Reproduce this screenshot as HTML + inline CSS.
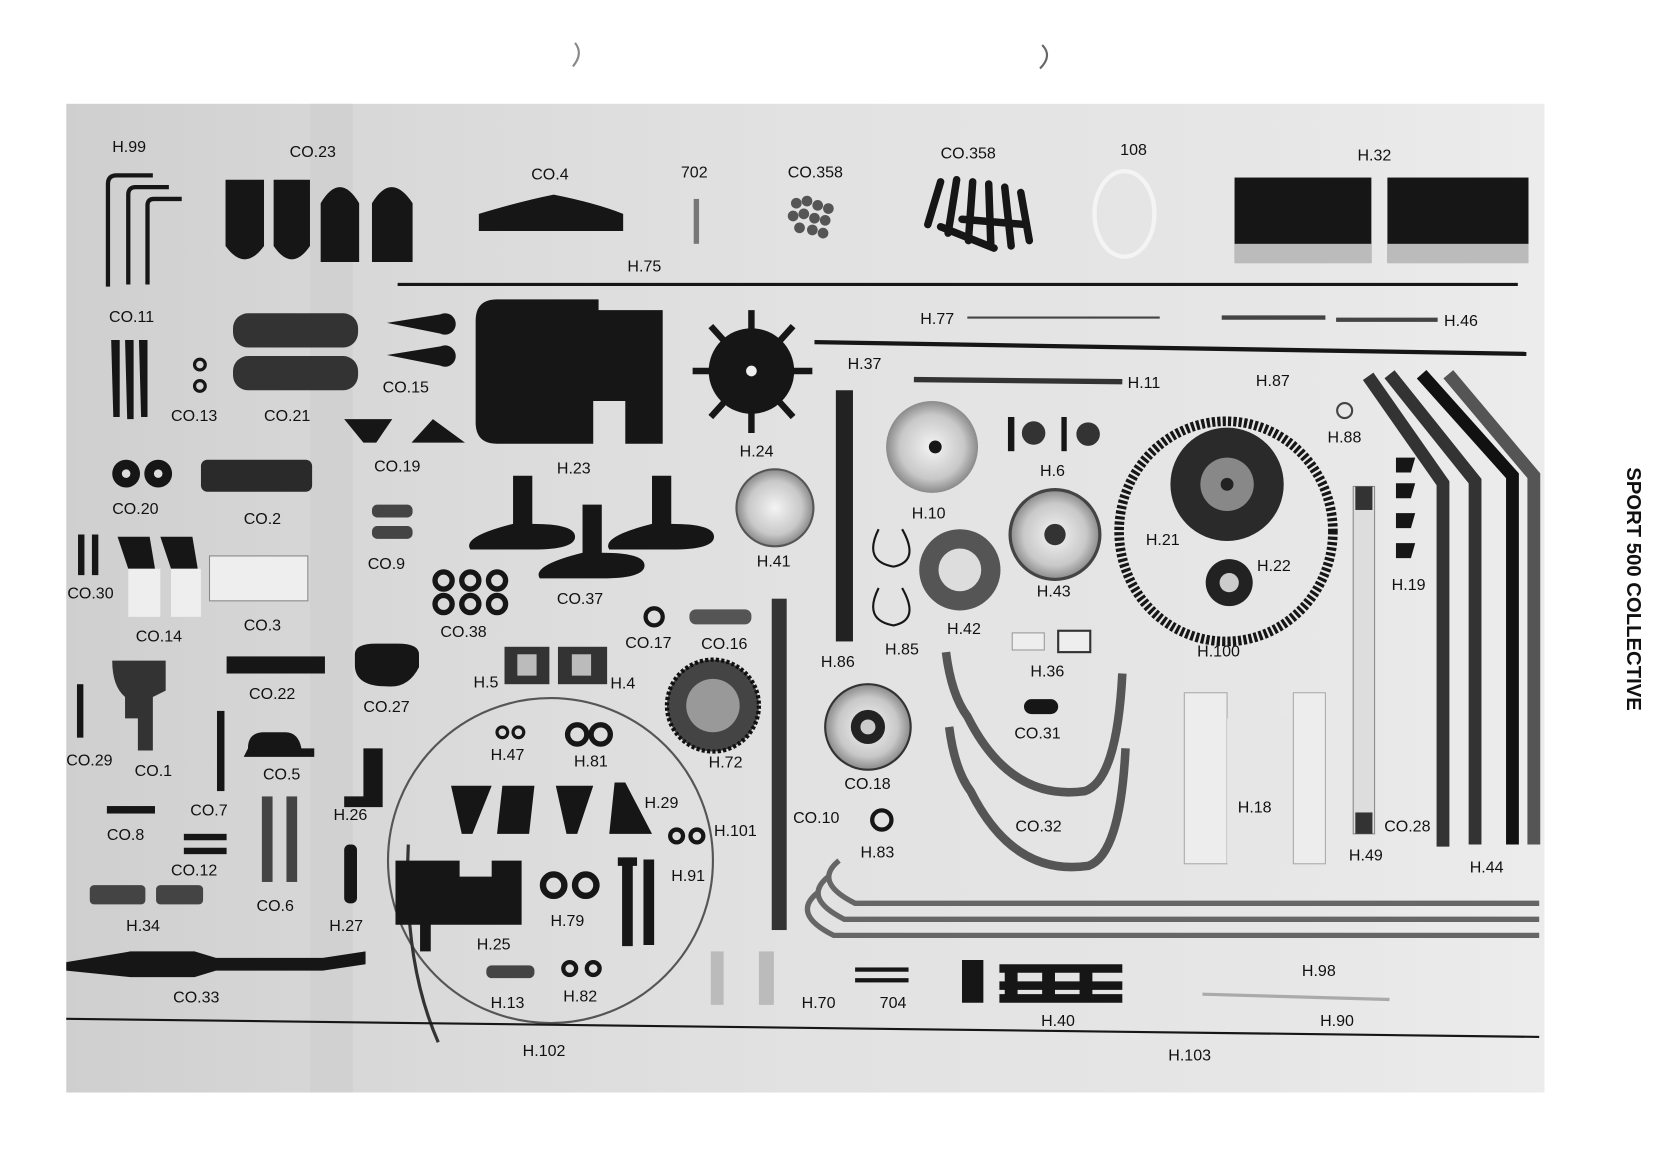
<!DOCTYPE html>
<html><head><meta charset="utf-8"><style>
html,body{margin:0;padding:0;background:#fff;}
svg{display:block}
text{font-family:"Liberation Sans",sans-serif;font-size:15px;fill:#111;}
</style></head><body>
<svg width="1676" height="1176" viewBox="0 0 1568 1100" xmlns="http://www.w3.org/2000/svg">
<defs>
<linearGradient id="bg" x1="0" x2="1" y1="0" y2="0">
<stop offset="0" stop-color="#cfcfcf"/><stop offset="0.25" stop-color="#dadada"/><stop offset="0.5" stop-color="#e2e2e2"/><stop offset="0.8" stop-color="#e6e6e6"/><stop offset="1" stop-color="#ececec"/>
</linearGradient>
<radialGradient id="disc"><stop offset="0" stop-color="#f4f4f4"/><stop offset="0.7" stop-color="#c8c8c8"/><stop offset="1" stop-color="#8a8a8a"/></radialGradient>
</defs>
<rect width="1568" height="1100" fill="#fff"/>
<path d="M538 40 q8 10 -2 22" stroke="#888" fill="none" stroke-width="2"/>
<path d="M975 42 q10 10 -2 22" stroke="#666" fill="none" stroke-width="2"/>
<rect x="62" y="97" width="1383" height="925" fill="url(#bg)"/>
<rect x="290" y="97" width="40" height="925" fill="#cdcdcd" opacity="0.6"/>
<g fill="#161616" stroke="#161616">
<!-- H.99 -->
<path d="M101 268 V172 q0-8 8-8 H143 M120 266 V182 q0-7 7-7 H158 M138 266 V192 q0-6 6-6 H170" fill="none" stroke-width="4"/>
<!-- CO.23 -->
<path d="M211 168 h36 v62 q-18 25 -36 0z M256 168 h34 v62 q-17 25 -34 0z M300 190 q18-30 36 0 v55 h-36z M348 190 q18-30 38 0 v55 h-38z" stroke="none"/>
<!-- CO.4 -->
<path d="M448 200 q40-12 70-18 q40 8 65 18 v16 h-135z" stroke="none"/>
<rect x="649" y="186" width="5" height="42" fill="#777" stroke="none"/>
<!-- CO.358 balls -->
<g fill="#555" stroke="none"><circle cx="745" cy="190" r="5"/><circle cx="755" cy="188" r="5"/><circle cx="765" cy="192" r="5"/><circle cx="775" cy="195" r="5"/><circle cx="742" cy="202" r="5"/><circle cx="752" cy="200" r="5"/><circle cx="762" cy="204" r="5"/><circle cx="772" cy="206" r="5"/><circle cx="748" cy="213" r="5"/><circle cx="760" cy="215" r="5"/><circle cx="770" cy="218" r="5"/></g>
<g stroke-width="7" stroke-linecap="round" fill="none"><path d="M880 170 l-12 40 M895 168 l-8 50 M910 170 l-4 55 M925 172 l2 58 M940 175 l6 55 M955 180 l8 45 M900 205 l60 5 M880 212 l50 20"/></g>
<ellipse cx="1052" cy="200" rx="28" ry="40" fill="none" stroke="#f4f4f4" stroke-width="4"/>
<rect x="1155" y="166" width="128" height="80" stroke="none"/>
<rect x="1298" y="166" width="132" height="80" stroke="none"/>
<rect x="1155" y="228" width="128" height="18" fill="#bbb" stroke="none"/>
<rect x="1298" y="228" width="132" height="18" fill="#bbb" stroke="none"/>
<!-- lines -->
<line x1="372" y1="266" x2="1420" y2="266" stroke-width="3"/>
<line x1="905" y1="297" x2="1085" y2="297" stroke-width="2" stroke="#444"/>
<line x1="1143" y1="297" x2="1240" y2="297" stroke-width="4" stroke="#444"/>
<line x1="1250" y1="299" x2="1345" y2="299" stroke-width="4" stroke="#444"/>
<line x1="762" y1="320" x2="1428" y2="331" stroke-width="4"/>
<!-- CO.11 -->
<path d="M104 318 h8 v72 h-6z M117 318 h8 v74 h-6z M130 318 h8 v72 h-6z" stroke="none"/>
<circle cx="187" cy="341" r="5" fill="none" stroke-width="3"/><circle cx="187" cy="361" r="5" fill="none" stroke-width="3"/>
<rect x="218" y="293" width="117" height="32" rx="14" fill="#333" stroke="none"/>
<rect x="218" y="333" width="117" height="32" rx="14" fill="#333" stroke="none"/>
<path d="M362 302 l50-8 a10 10 0 1 1 0 18z M362 332 l50-8 a10 10 0 1 1 0 18z" stroke="none"/>
<!-- H.23 -->
<path d="M445 300 q0-20 20-20 h95 v10 h60 v125 h-35 v-40 h-30 v40 h-90 q-20 0 -20-20z" stroke="none"/>
<!-- H.24 -->
<circle cx="703" cy="347" r="40" stroke="none"/>
<g stroke-width="6"><line x1="703" y1="290" x2="703" y2="405"/><line x1="648" y1="347" x2="760" y2="347"/><line x1="665" y1="305" x2="742" y2="390"/><line x1="742" y1="305" x2="665" y2="390"/></g>
<circle cx="703" cy="347" r="5" fill="#eee" stroke="none"/>
<!-- CO.19 -->
<path d="M322 392 h45 l-15 22 h-12z M385 414 l20-22 l30 22z" stroke="none"/>
<!-- H.11 -->
<line x1="855" y1="355" x2="1050" y2="357" stroke-width="5" stroke="#333"/>
<circle cx="1258" cy="384" r="7" fill="none" stroke="#444" stroke-width="2"/>
<!-- H.10 -->
<circle cx="872" cy="418" r="43" fill="url(#disc)" stroke="none"/>
<circle cx="875" cy="418" r="6" stroke="none"/>
<!-- H.6 -->
<rect x="943" y="390" width="6" height="32" stroke="none"/><circle cx="967" cy="405" r="11" fill="#333" stroke="none"/><rect x="993" y="390" width="5" height="32" stroke="none"/><circle cx="1018" cy="406" r="11" fill="#333" stroke="none"/>
<!-- H.100 belt, H.21, H.22 -->
<ellipse cx="1147" cy="497" rx="100" ry="103" fill="none" stroke-width="9" stroke-dasharray="3 2"/>
<circle cx="1148" cy="453" r="53" fill="#2a2a2a" stroke="none"/>
<circle cx="1148" cy="453" r="25" fill="#888" stroke="none"/>
<circle cx="1148" cy="453" r="6" fill="#222" stroke="none"/>
<circle cx="1150" cy="545" r="22" fill="#222" stroke="none"/><circle cx="1150" cy="545" r="9" fill="#ccc" stroke="none"/>
<!-- H.44 rails -->
<g fill="none" stroke-width="12" stroke="#333"><path d="M1280 352 l70 100 v340"/><path d="M1300 350 l80 100 v340"/><path d="M1330 350 l85 95 v345" stroke="#111"/><path d="M1355 350 l80 95 v345" stroke="#555"/></g>
<!-- H.19 -->
<g stroke="none"><path d="M1306 428 h18 l-4 14 h-14z M1306 452 h18 l-4 14 h-14z M1306 480 h18 l-4 14 h-14z M1306 508 h18 l-4 14 h-14z"/></g>
<!-- H.49 -->
<rect x="1266" y="455" width="20" height="325" fill="#ddd" stroke="#888" stroke-width="1"/>
<rect x="1268" y="455" width="16" height="22" fill="#333" stroke="none"/><rect x="1268" y="760" width="16" height="20" fill="#333" stroke="none"/>
<!-- CO.20 -->
<circle cx="118" cy="443" r="13" stroke="none"/><circle cx="148" cy="443" r="13" stroke="none"/><circle cx="118" cy="443" r="4" fill="#ddd" stroke="none"/><circle cx="148" cy="443" r="4" fill="#ddd" stroke="none"/>
<rect x="188" y="430" width="104" height="30" rx="6" fill="#2a2a2a" stroke="none"/>
<!-- CO.9 -->
<rect x="348" y="472" width="38" height="12" rx="5" fill="#444" stroke="none"/><rect x="348" y="492" width="38" height="12" rx="5" fill="#444" stroke="none"/>
<!-- CO.37 -->
<path d="M480 445 h18 v45 q40 0 40 12 t-40 12 h-18 h-40 q-8-12 40-24z M610 445 h18 v45 q40 0 40 12 t-40 12 h-18 h-40 q-8-12 40-24z M545 472 h18 v45 q40 0 40 12 t-40 12 h-18 h-40 q-8-12 40-24z" stroke="none"/>
<!-- H.41 -->
<circle cx="725" cy="475" r="36" fill="url(#disc)" stroke="#555" stroke-width="2"/>
<!-- H.86 -->
<rect x="782" y="365" width="16" height="235" fill="#222" stroke="none"/>
<!-- H.43 -->
<circle cx="987" cy="500" r="42" fill="url(#disc)" stroke="#444" stroke-width="3"/><circle cx="987" cy="500" r="10" fill="#333" stroke="none"/>
<!-- H.42 -->
<circle cx="898" cy="533" r="38" fill="#555" stroke="none"/><circle cx="898" cy="533" r="20" fill="#ddd" stroke="none"/>
<!-- H.85 -->
<path d="M822 495 q-15 30 14 35 q25-5 8-35 M822 550 q-15 30 14 35 q25-5 8-35" fill="none" stroke-width="2"/>
<!-- CO.30 CO.14 CO.3 -->
<path d="M73 500 h6 v38 h-6z M86 500 h6 v38 h-6z" stroke="none"/>
<path d="M110 502 h30 l5 30 h-25z M150 502 h30 l5 30 h-25z" stroke="none"/>
<rect x="120" y="532" width="30" height="45" fill="#eee" stroke="none"/><rect x="160" y="532" width="28" height="45" fill="#eee" stroke="none"/>
<rect x="196" y="520" width="92" height="42" fill="#eee" stroke="#888" stroke-width="1"/>
<!-- CO.38 -->
<g fill="none" stroke-width="5"><circle cx="415" cy="543" r="8"/><circle cx="440" cy="543" r="8"/><circle cx="465" cy="543" r="8"/><circle cx="415" cy="565" r="8"/><circle cx="440" cy="565" r="8"/><circle cx="465" cy="565" r="8"/></g>
<!-- CO.17 CO.16 -->
<circle cx="612" cy="577" r="8" fill="none" stroke-width="4"/>
<rect x="645" y="570" width="58" height="14" rx="6" fill="#555" stroke="none"/>
<!-- H.36 -->
<rect x="947" y="592" width="30" height="16" fill="#eee" stroke="#999" stroke-width="1"/><rect x="990" y="590" width="30" height="20" fill="#eee" stroke="#333" stroke-width="2"/>
<!-- H.5 H.4 -->
<rect x="472" y="605" width="42" height="35" fill="#333" stroke="none"/><rect x="522" y="605" width="46" height="35" fill="#333" stroke="none"/>
<rect x="484" y="612" width="18" height="20" fill="#bbb" stroke="none"/><rect x="535" y="612" width="18" height="20" fill="#bbb" stroke="none"/>
<!-- H.72 -->
<circle cx="667" cy="660" r="43" fill="#444" stroke="#111" stroke-width="4" stroke-dasharray="3 2"/><circle cx="667" cy="660" r="25" fill="#999" stroke="none"/>
<!-- H.101 -->
<rect x="722" y="560" width="14" height="310" fill="#333" stroke="none"/>
<!-- CO.18 -->
<circle cx="812" cy="680" r="40" fill="url(#disc)" stroke="#333" stroke-width="2"/><circle cx="812" cy="680" r="16" fill="#222" stroke="none"/><circle cx="812" cy="680" r="7" fill="#ccc" stroke="none"/>
<circle cx="825" cy="767" r="9" fill="none" stroke-width="4"/>
<!-- CO.31 -->
<rect x="958" y="654" width="32" height="14" rx="7" stroke="none"/>
<!-- CO.32 arcs -->
<path d="M885 610 q5 40 20 60 q40 80 110 70 q30-10 35-110" fill="none" stroke="#555" stroke-width="8"/>
<path d="M888 680 q5 40 20 60 q40 80 110 70 q30-10 35-110" fill="none" stroke="#555" stroke-width="8"/>
<!-- H.18 -->
<rect x="1108" y="648" width="40" height="160" fill="#ededed" stroke="#aaa" stroke-width="1"/>
<rect x="1148" y="672" width="62" height="136" fill="#e6e6e6" stroke="none"/>
<rect x="1210" y="648" width="30" height="160" fill="#ededed" stroke="#aaa" stroke-width="1"/>
<!-- CO.27 -->
<path d="M332 612 q0-10 20-10 h20 q20 0 20 10 v12 q-10 20 -30 18 q-30 0 -30-20z" stroke="none"/>
<!-- CO.22 -->
<rect x="212" y="614" width="92" height="16" stroke="none"/>
<!-- CO.29 CO.1 -->
<rect x="72" y="640" width="6" height="50" stroke="none"/>
<path d="M105 618 h50 v28 l-12 6 v50 h-14 v-30 h-12 v-20 q-12-10 -12-34z" fill="#333" stroke="none"/>
<rect x="203" y="665" width="7" height="75" stroke="none"/>
<path d="M232 700 q0-15 15-15 h20 q12 0 15 15 h12 v8 h-66z" stroke="none"/>
<path d="M322 745 h18 v-45 h18 v55 h-36z" stroke="none"/>
<rect x="100" y="754" width="45" height="7" stroke="none"/>
<rect x="172" y="780" width="40" height="6" stroke="none"/><rect x="172" y="793" width="40" height="6" stroke="none"/>
<rect x="245" y="745" width="10" height="80" fill="#444" stroke="none"/><rect x="268" y="745" width="10" height="80" fill="#444" stroke="none"/>
<rect x="322" y="790" width="12" height="55" rx="5" stroke="none"/>
<rect x="84" y="828" width="52" height="18" rx="4" fill="#444" stroke="none"/><rect x="146" y="828" width="44" height="18" rx="4" fill="#444" stroke="none"/>
<!-- CO.33 -->
<path d="M62 900 l60-10 h60 l20 6 h100 l40 -6 v12 l-40 6 h-100 l-20 6 h-60 l-60 -6z" stroke="none"/>
<!-- H.102 circle -->
<circle cx="515" cy="805" r="152" fill="none" stroke="#555" stroke-width="2"/>
<path d="M382 790 q-5 110 28 185" fill="none" stroke="#333" stroke-width="3"/>
<circle cx="470" cy="685" r="5" fill="none" stroke-width="3"/><circle cx="485" cy="685" r="5" fill="none" stroke-width="3"/>
<circle cx="540" cy="687" r="9" fill="none" stroke-width="5"/><circle cx="562" cy="687" r="9" fill="none" stroke-width="5"/>
<path d="M422 735 h38 l-18 45 h-10z M470 735 h30 l-5 45 h-30z M520 735 h35 l-15 45 h-10z M575 732 h10 l25 48 h-40z" stroke="none"/>
<path d="M370 805 h60 v15 h30 v-15 h28 v60 h-85 v25 h-10 v-25 h-23z" stroke="none"/>
<circle cx="518" cy="828" r="10" fill="none" stroke-width="6"/><circle cx="548" cy="828" r="10" fill="none" stroke-width="6"/>
<path d="M578 802 h18 v8 h-4 v75 h-10 v-75 h-4z M602 804 h10 v80 h-10z" stroke="none"/>
<circle cx="633" cy="782" r="6" fill="none" stroke-width="4"/><circle cx="652" cy="782" r="6" fill="none" stroke-width="4"/>
<rect x="455" y="903" width="45" height="12" rx="5" fill="#444" stroke="none"/>
<circle cx="533" cy="906" r="6" fill="none" stroke-width="4"/><circle cx="555" cy="906" r="6" fill="none" stroke-width="4"/>
<!-- H.98 curved rods -->
<g fill="none" stroke="#666" stroke-width="5"><path d="M785 805 q-25 20 15 40 h640"/><path d="M775 820 q-25 20 15 40 h650"/><path d="M765 835 q-25 20 15 40 h660"/></g>
<line x1="1125" y1="930" x2="1300" y2="935" stroke="#aaa" stroke-width="3"/>
<rect x="665" y="890" width="12" height="50" fill="#bbb" stroke="none"/><rect x="710" y="890" width="14" height="50" fill="#bbb" stroke="none"/>
<rect x="800" y="905" width="50" height="4" stroke="none"/><rect x="800" y="915" width="50" height="4" stroke="none"/>
<path d="M900 898 h20 v40 h-20z M935 902 h115 v8 h-115z M935 918 h115 v8 h-115z M935 930 h115 v8 h-115z M940 902 h12 v36 h-12z M975 902 h12 v36 h-12z M1010 902 h12 v36 h-12z" stroke="none"/>
<!-- H.103 -->
<line x1="62" y1="953" x2="1440" y2="970" stroke-width="2"/>
</g>
<g>
<text x="105" y="142">H.99</text><text x="271" y="147">CO.23</text><text x="497" y="168">CO.4</text><text x="637" y="166">702</text><text x="737" y="166">CO.358</text><text x="880" y="148">CO.358</text><text x="1048" y="145">108</text><text x="1270" y="150">H.32</text>
<text x="587" y="254">H.75</text><text x="861" y="303">H.77</text><text x="1351" y="305">H.46</text>
<text x="102" y="301">CO.11</text><text x="160" y="394">CO.13</text><text x="247" y="394">CO.21</text><text x="358" y="367">CO.15</text><text x="793" y="345">H.37</text><text x="1055" y="363">H.11</text><text x="1175" y="361">H.87</text><text x="1242" y="414">H.88</text>
<text x="350" y="441">CO.19</text><text x="521" y="443">H.23</text><text x="692" y="427">H.24</text><text x="973" y="445">H.6</text><text x="853" y="485">H.10</text><text x="1072" y="510">H.21</text><text x="1176" y="534">H.22</text><text x="1302" y="552">H.19</text>
<text x="105" y="481">CO.20</text><text x="228" y="490">CO.2</text><text x="344" y="532">CO.9</text><text x="708" y="530">H.41</text><text x="970" y="558">H.43</text>
<text x="63" y="560">CO.30</text><text x="127" y="600">CO.14</text><text x="228" y="590">CO.3</text><text x="412" y="596">CO.38</text><text x="521" y="565">CO.37</text><text x="585" y="606">CO.17</text><text x="656" y="607">CO.16</text><text x="768" y="624">H.86</text><text x="828" y="612">H.85</text><text x="886" y="593">H.42</text><text x="964" y="633">H.36</text><text x="1120" y="614">H.100</text>
<text x="443" y="643">H.5</text><text x="571" y="644">H.4</text><text x="233" y="654">CO.22</text><text x="340" y="666">CO.27</text><text x="949" y="691">CO.31</text>
<text x="62" y="716">CO.29</text><text x="126" y="726">CO.1</text><text x="246" y="729">CO.5</text><text x="459" y="711">H.47</text><text x="537" y="717">H.81</text><text x="663" y="718">H.72</text><text x="790" y="738">CO.18</text>
<text x="603" y="756">H.29</text><text x="312" y="767">H.26</text><text x="178" y="763">CO.7</text><text x="100" y="786">CO.8</text><text x="668" y="782">H.101</text><text x="742" y="770">CO.10</text><text x="805" y="802">H.83</text><text x="950" y="778">CO.32</text><text x="1158" y="760">H.18</text><text x="1295" y="778">CO.28</text><text x="1262" y="805">H.49</text><text x="1375" y="816">H.44</text>
<text x="160" y="819">CO.12</text><text x="628" y="824">H.91</text><text x="240" y="852">CO.6</text><text x="118" y="871">H.34</text><text x="308" y="871">H.27</text><text x="515" y="866">H.79</text><text x="446" y="888">H.25</text>
<text x="1218" y="913">H.98</text><text x="162" y="938">CO.33</text><text x="459" y="943">H.13</text><text x="527" y="937">H.82</text><text x="750" y="943">H.70</text><text x="823" y="943">704</text><text x="974" y="960">H.40</text><text x="1235" y="960">H.90</text>
<text x="489" y="988">H.102</text><text x="1093" y="992">H.103</text>
<text transform="translate(1522,437) rotate(90)" style="font-weight:bold;font-size:19px">SPORT 500 COLLECTIVE</text>
</g>
</svg>
</body></html>
